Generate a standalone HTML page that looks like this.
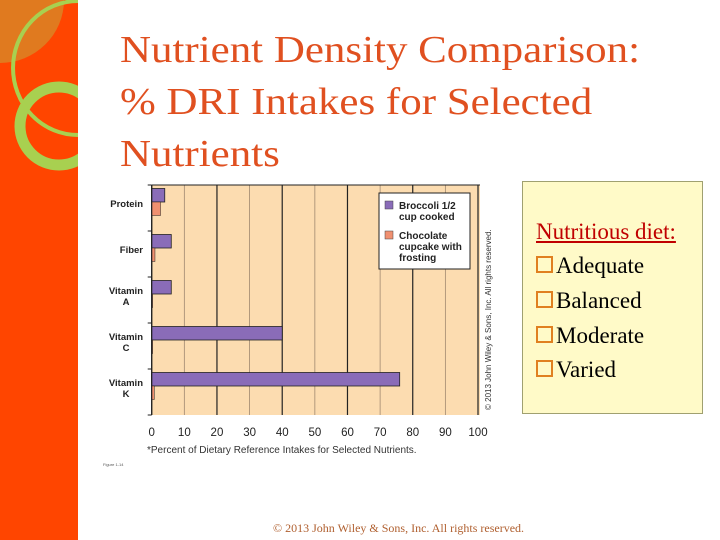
<!DOCTYPE html>
<html><head><meta charset="utf-8"><style>
body{margin:0;width:720px;height:540px;position:relative;overflow:hidden;background:#fff;font-family:"Liberation Serif",serif}
.t{position:absolute;left:120px;font-size:38px;color:#e05020;line-height:52px;top:24px;transform:scaleX(1.13);transform-origin:0 0;white-space:nowrap}
.box{position:absolute;left:522px;top:181px;width:181px;height:233px;background:#fffac8;border:1px solid #a0a070;box-sizing:border-box}
.box div{position:absolute;left:13px;font-size:23px;color:#000;white-space:nowrap}
.cb{display:inline-block;width:13px;height:13px;border:2px solid #e08020;margin-right:3px;vertical-align:0px}
</style></head><body>
<svg width="80" height="540" style="position:absolute;left:0;top:0">
<rect width="78" height="540" fill="#ff4500"/>
<path d="M0 0H64A64 63 0 0 1 0 63Z" fill="#e07a1f"/>
<path d="M78 1A65 67 0 0 0 78 135" fill="none" stroke="#a8d050" stroke-width="4"/>
<circle cx="59" cy="126" r="39" fill="none" stroke="#a8d050" stroke-width="11"/>
<rect x="78" width="2" height="540" fill="#fff"/>
</svg>
<div class="t">Nutrient Density Comparison:<br>% DRI Intakes for Selected<br>Nutrients</div>
<svg id="chart" width="420" height="300" style="position:absolute;left:95px;top:180px;font-family:'Liberation Sans',sans-serif"></svg>
<div class="box">
<div style="top:37px;color:#c00000;text-decoration:underline">Nutritious diet:</div>
<div style="top:71px"><span class="cb"></span>Adequate</div>
<div style="top:106px"><span class="cb"></span>Balanced</div>
<div style="top:141px"><span class="cb"></span>Moderate</div>
<div style="top:175px"><span class="cb"></span>Varied</div>
</div>
<div style="position:absolute;left:273px;top:521px;font-size:12px;color:#b06030;white-space:nowrap">© 2013 John Wiley &amp; Sons, Inc. All rights reserved.</div>
<script>
const categories=[["Protein"],["Fiber"],["Vitamin","A"],["Vitamin","C"],["Vitamin","K"]];
const broccoli=[4,6,6,40,76];
const cupcake=[2.7,1,0.3,0.3,0.8];
const ticks=[0,10,20,30,40,50,60,70,80,90,100];
const svg=document.getElementById('chart');const NS='http://www.w3.org/2000/svg';
const x0=56.7,x1=383,yT=5,yB=235;
const xs=v=>x0+(x1-x0)*v/100;const band=(yB-yT)/categories.length;
function el(t,a,p){const e=document.createElementNS(NS,t);for(const k in a)e.setAttribute(k,a[k]);(p||svg).appendChild(e);return e;}
let bg=el('rect',{x:x0,y:yT,width:x1-x0+2,height:yB-yT,fill:'#fcdcb0'});


ticks.forEach(t=>{const g=el('line',{x1:xs(t),x2:xs(t),y1:yT,y2:yB,stroke:t%20==0?'#222':'#a08870','stroke-width':t%20==0?1.2:0.8});


const l=el('text',{x:xs(t),y:yB+21,'font-size':11.5,'text-anchor':'middle',fill:'#222'});l.textContent=t;

});
el('line',{x1:x0,x2:x1+2,y1:yT,y2:yT,stroke:'#222'});
for(let i=0;i<=categories.length;i++)el('line',{x1:x0-4,x2:x0,y1:yT+i*band,y2:yT+i*band,stroke:'#222'});
categories.forEach((c,i)=>{const y=yT+i*band;
const b=el('rect',{x:x0,y:y+3.5,width:xs(broccoli[i])-x0,height:13.5,fill:'#8a6cb8',stroke:'#222','stroke-width':0.8});


const o=el('rect',{x:x0,y:y+17,width:xs(cupcake[i])-x0,height:13.5,fill:'#f09070',stroke:'#222','stroke-width':0.5});


const tx=el('text',{x:48,y:c.length==1?y+22:y+17,'font-size':9.5,'font-weight':'bold','text-anchor':'end',fill:'#222'});
c.forEach((s,j)=>{const ts=el('tspan',{x:c.length==1?48:j?31:48,dy:j?11:0,'text-anchor':j?'middle':'end'},tx);ts.textContent=s;});

});
el('line',{x1:x0,x2:x0,y1:yT,y2:yB,stroke:'#222','stroke-width':1.2});
const lg=el('g',{});
el('rect',{x:284,y:13,width:91,height:76,fill:'#fff',stroke:'#222'},lg);
el('rect',{x:290,y:21,width:8,height:8,fill:'#8a6cb8',stroke:'#444','stroke-width':.5},lg);
el('rect',{x:290,y:51,width:8,height:8,fill:'#f09070',stroke:'#444','stroke-width':.5},lg);
[['Broccoli 1/2',29],['cup cooked',40],['Chocolate',59],['cupcake with',70],['frosting',81]].forEach(a=>{const t=el('text',{x:304,y:a[1],'font-size':10,'font-weight':'bold',fill:'#222'},lg);t.textContent=a[0];});
const xt=el('text',{x:52,y:yB+38,'font-size':10,fill:'#333'});xt.textContent='*Percent of Dietary Reference Intakes for Selected Nutrients.';


const cr=el('text',{x:0,y:0,'font-size':8,fill:'#333',transform:'translate(396,230) rotate(-90)'});cr.textContent='© 2013 John Wiley & Sons, Inc. All rights reserved.';
const fg=el('text',{x:8,y:286,'font-size':4,fill:'#555'});fg.textContent='Figure 1-14';
</script>
</body></html>
